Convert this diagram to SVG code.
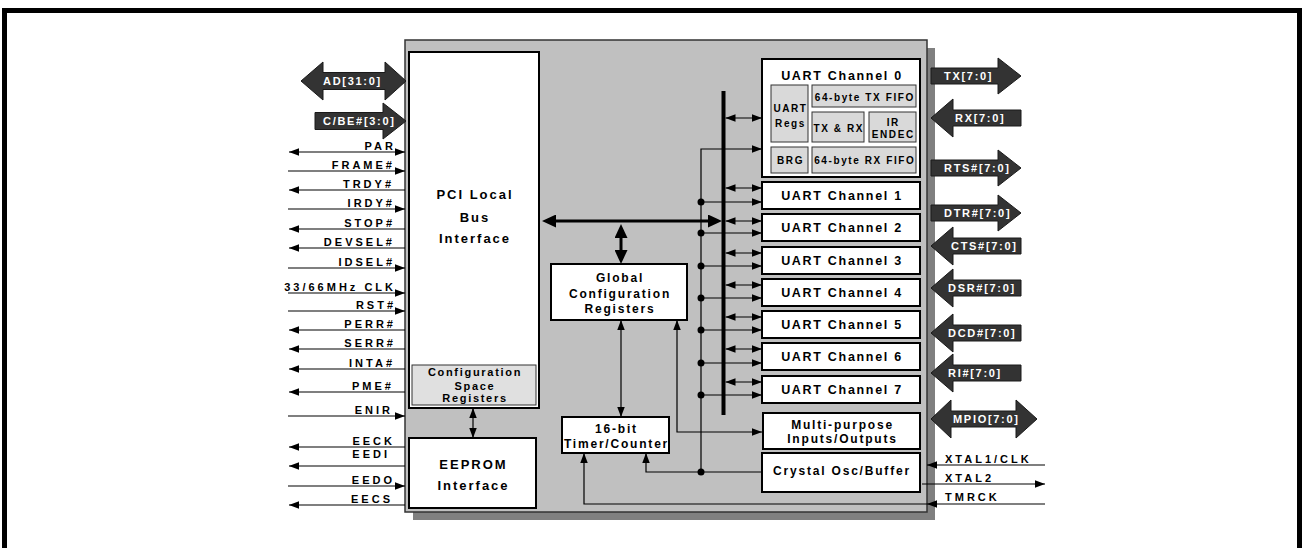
<svg xmlns="http://www.w3.org/2000/svg" width="1304" height="548" viewBox="0 0 1304 548">
<defs>
<marker id="a" viewBox="0 0 10 7.5" refX="10" refY="3.75" markerWidth="10" markerHeight="7.5" markerUnits="userSpaceOnUse" orient="auto-start-reverse"><path d="M0,0 L10,3.75 L0,7.5 Z" fill="#000"/></marker>
<marker id="b" viewBox="0 0 14 13" refX="6" refY="6.5" markerWidth="14" markerHeight="13" markerUnits="userSpaceOnUse" orient="auto-start-reverse"><path d="M0,0 L14,6.5 L0,13 Z" fill="#000"/></marker>
<style>
text{font-family:"Liberation Sans",Arial,sans-serif;font-weight:bold;fill:#000}
.sig{font-size:11px;letter-spacing:3px}
.big{font-size:11px;letter-spacing:1.7px;fill:#fff}
.t13{font-size:13px;letter-spacing:2px;text-anchor:middle}
.t12{font-size:12px;letter-spacing:1.8px;text-anchor:middle}
.t125{font-size:12.5px;letter-spacing:1.7px;text-anchor:middle}
.t11{font-size:11px;letter-spacing:1.7px;text-anchor:middle}
.t10{font-size:10px;letter-spacing:1.6px;text-anchor:middle}
.box{fill:#fff;stroke:#000;stroke-width:2}
.sub{fill:#d9d9d9;stroke:#333;stroke-width:1}
.ln{stroke:#000;stroke-width:1.2;fill:none}
.arr{fill:#333;stroke:#1a1a1a;stroke-width:1}
.dot{fill:#000}
</style>
</defs>
<rect x="4.5" y="10.5" width="1295" height="580" fill="none" stroke="#000" stroke-width="5"/>

<g id="chip">
<rect x="413" y="48" width="522" height="472" fill="#808080"/>
<rect x="405" y="40" width="522" height="472" fill="#c0c0c0" stroke="#333" stroke-width="1.5"/>
</g>

<g id="pci">
<rect class="box" x="409" y="52" width="130" height="356"/>
<text class="t13" x="475" y="198.5">PCI Local</text>
<text class="t13" x="475" y="221.5">Bus</text>
<text class="t13" x="475" y="242.5">Interface</text>
</g>
<g id="cfgspace">
<rect x="412" y="365" width="124" height="40" fill="#e0e0e0" stroke="#333" stroke-width="1"/>
<text class="t11" x="475" y="376">Configuration</text>
<text class="t11" x="475" y="389.5">Space</text>
<text class="t11" x="475" y="401.5">Registers</text>
</g>
<g id="eeprom">
<rect class="box" x="409" y="438" width="127" height="70"/>
<text class="t13" x="473.5" y="468.5">EEPROM</text>
<text class="t13" x="473.5" y="489.5">Interface</text>
</g>
<g id="gcr">
<rect class="box" x="551" y="264" width="136" height="56"/>
<text class="t12" x="620" y="281.5">Global</text>
<text class="t12" x="620" y="297.5">Configuration</text>
<text class="t12" x="620" y="312.5">Registers</text>
</g>
<g id="timer">
<rect class="box" x="562" y="417" width="107" height="36"/>
<text class="t12" x="616.5" y="432.5">16-bit</text>
<text class="t12" x="616.5" y="447.5">Timer/Counter</text>
</g>

<g id="uart0">
<rect class="box" x="762" y="59" width="158" height="118"/>
<text class="t125" x="842" y="79.5">UART Channel 0</text>
<rect class="sub" x="771" y="85" width="37" height="57"/>
<text class="t10" x="790.5" y="111.5">UART</text>
<text class="t10" x="790.5" y="126.5">Regs</text>
<rect class="sub" x="812" y="85" width="104" height="22"/>
<text class="t10" x="864.8" y="100.5">64-byte TX FIFO</text>
<rect class="sub" x="812" y="112" width="52" height="30"/>
<text class="t10" x="838.8" y="131.5">TX &amp; RX</text>
<rect class="sub" x="869" y="112" width="47" height="30"/>
<text class="t10" x="893.3" y="125.5">IR</text>
<text class="t10" x="893.3" y="137.5">ENDEC</text>
<rect class="sub" x="771" y="147" width="37" height="26"/>
<text class="t10" x="790.5" y="163.5">BRG</text>
<rect class="sub" x="812" y="147" width="104" height="26"/>
<text class="t10" x="864.8" y="163.5">64-byte RX FIFO</text>
</g>
<g id="uart1"><rect class="box" x="762" y="182" width="158" height="27"/><text class="t125" x="842" y="200">UART Channel 1</text></g>
<g id="uart2"><rect class="box" x="762" y="214" width="158" height="27"/><text class="t125" x="842" y="232">UART Channel 2</text></g>
<g id="uart3"><rect class="box" x="762" y="247" width="158" height="27"/><text class="t125" x="842" y="265">UART Channel 3</text></g>
<g id="uart4"><rect class="box" x="762" y="279" width="158" height="27"/><text class="t125" x="842" y="297">UART Channel 4</text></g>
<g id="uart5"><rect class="box" x="762" y="311" width="158" height="27"/><text class="t125" x="842" y="329">UART Channel 5</text></g>
<g id="uart6"><rect class="box" x="762" y="343" width="158" height="27"/><text class="t125" x="842" y="361">UART Channel 6</text></g>
<g id="uart7"><rect class="box" x="762" y="376" width="158" height="27"/><text class="t125" x="842" y="394">UART Channel 7</text></g>
<g id="mpio">
<rect class="box" x="763" y="413" width="157" height="36"/>
<text class="t12" x="842.5" y="428.5">Multi-purpose</text>
<text class="t12" x="842.5" y="442.5">Inputs/Outputs</text>
</g>
<g id="xtal">
<rect class="box" x="762" y="453" width="158" height="39"/>
<text class="t12" x="842" y="474.5">Crystal Osc/Buffer</text>
</g>

<g id="connectors">
<!-- internal bus -->
<rect x="721.5" y="91" width="4" height="324" fill="#000"/>
<line x1="550" y1="221" x2="714" y2="221" stroke="#000" stroke-width="3" marker-start="url(#b)" marker-end="url(#b)"/>
<line x1="621" y1="232" x2="621" y2="256" stroke="#000" stroke-width="3" marker-start="url(#b)" marker-end="url(#b)"/>
<line class="ln" x1="621" y1="320" x2="621" y2="417" marker-start="url(#a)" marker-end="url(#a)"/>
<line class="ln" x1="473" y1="408" x2="473" y2="438" marker-start="url(#a)" marker-end="url(#a)"/>
<path class="ln" d="M677,320 V432 H762" marker-start="url(#a)" marker-end="url(#a)"/>
<!-- bus to channels -->
<line class="ln" x1="725.5" y1="118" x2="762" y2="118" marker-start="url(#a)" marker-end="url(#a)"/>
<line class="ln" x1="725.5" y1="188" x2="762" y2="188" marker-start="url(#a)" marker-end="url(#a)"/>
<line class="ln" x1="725.5" y1="221" x2="762" y2="221" marker-start="url(#a)" marker-end="url(#a)"/>
<line class="ln" x1="725.5" y1="253" x2="762" y2="253" marker-start="url(#a)" marker-end="url(#a)"/>
<line class="ln" x1="725.5" y1="285" x2="762" y2="285" marker-start="url(#a)" marker-end="url(#a)"/>
<line class="ln" x1="725.5" y1="317" x2="762" y2="317" marker-start="url(#a)" marker-end="url(#a)"/>
<line class="ln" x1="725.5" y1="349" x2="762" y2="349" marker-start="url(#a)" marker-end="url(#a)"/>
<line class="ln" x1="725.5" y1="382" x2="762" y2="382" marker-start="url(#a)" marker-end="url(#a)"/>
<!-- clock distribution -->
<path class="ln" d="M701,472 V149 H762" marker-end="url(#a)"/>
<line class="ln" x1="701" y1="202" x2="762" y2="202" marker-end="url(#a)"/>
<line class="ln" x1="701" y1="233" x2="762" y2="233" marker-end="url(#a)"/>
<line class="ln" x1="701" y1="266" x2="762" y2="266" marker-end="url(#a)"/>
<line class="ln" x1="701" y1="298" x2="762" y2="298" marker-end="url(#a)"/>
<line class="ln" x1="701" y1="330" x2="762" y2="330" marker-end="url(#a)"/>
<line class="ln" x1="701" y1="363" x2="762" y2="363" marker-end="url(#a)"/>
<line class="ln" x1="701" y1="395" x2="762" y2="395" marker-end="url(#a)"/>
<path class="ln" d="M762,472 H646 V453" marker-end="url(#a)"/>
<path class="ln" d="M927,504 H584 V453" marker-end="url(#a)"/>
<circle class="dot" cx="701" cy="202" r="3.5"/>
<circle class="dot" cx="701" cy="233" r="3.5"/>
<circle class="dot" cx="701" cy="266" r="3.5"/>
<circle class="dot" cx="701" cy="298" r="3.5"/>
<circle class="dot" cx="701" cy="330" r="3.5"/>
<circle class="dot" cx="701" cy="363" r="3.5"/>
<circle class="dot" cx="701" cy="395" r="3.5"/>
<circle class="dot" cx="701" cy="472" r="3.5"/>

<!-- left PCI signals -->
<path class="arr" d="M301,81 L323,62 L323,72.5 L385,72.5 L385,62 L406,81 L385,100 L385,89.5 L323,89.5 L323,100 Z"/>
<path class="arr" d="M315,112.5 L383,112.5 L383,103 L406,121 L383,139 L383,129.5 L315,129.5 Z"/>
<line class="ln" x1="289" y1="152" x2="405" y2="152" marker-start="url(#a)" marker-end="url(#a)"/>
<line class="ln" x1="288" y1="171" x2="405" y2="171" marker-end="url(#a)"/>
<line class="ln" x1="289" y1="190" x2="405" y2="190" marker-start="url(#a)"/>
<line class="ln" x1="288" y1="209" x2="405" y2="209" marker-end="url(#a)"/>
<line class="ln" x1="289" y1="229" x2="405" y2="229" marker-start="url(#a)"/>
<line class="ln" x1="289" y1="248" x2="405" y2="248" marker-start="url(#a)"/>
<line class="ln" x1="288" y1="268" x2="405" y2="268" marker-end="url(#a)"/>
<line class="ln" x1="288" y1="293" x2="405" y2="293" marker-end="url(#a)"/>
<line class="ln" x1="288" y1="311" x2="405" y2="311" marker-end="url(#a)"/>
<line class="ln" x1="289" y1="330" x2="405" y2="330" marker-start="url(#a)"/>
<line class="ln" x1="289" y1="349" x2="405" y2="349" marker-start="url(#a)"/>
<line class="ln" x1="289" y1="369" x2="405" y2="369" marker-start="url(#a)"/>
<line class="ln" x1="289" y1="392" x2="405" y2="392" marker-start="url(#a)"/>
<line class="ln" x1="288" y1="416" x2="405" y2="416" marker-end="url(#a)"/>
<line class="ln" x1="289" y1="447" x2="405" y2="447" marker-start="url(#a)"/>
<line class="ln" x1="289" y1="466" x2="405" y2="466" marker-start="url(#a)"/>
<line class="ln" x1="288" y1="486" x2="405" y2="486" marker-end="url(#a)"/>
<line class="ln" x1="289" y1="505" x2="405" y2="505" marker-start="url(#a)"/>

<!-- right serial signals -->
<path class="arr" d="M931,68 L998,68 L998,58 L1021,76 L998,94 L998,84 L931,84 Z"/>
<path class="arr" d="M931,118 L953,99 L953,110 L1021,110 L1021,126 L953,126 L953,137 Z"/>
<path class="arr" d="M931,160 L998,160 L998,150 L1021,168 L998,186 L998,176 L931,176 Z"/>
<path class="arr" d="M931,205 L998,205 L998,195 L1021,213 L998,231 L998,221 L931,221 Z"/>
<path class="arr" d="M931,246 L953,227 L953,238 L1021,238 L1021,254 L953,254 L953,265 Z"/>
<path class="arr" d="M931,288 L953,269 L953,280 L1021,280 L1021,296 L953,296 L953,307 Z"/>
<path class="arr" d="M931,333 L953,314 L953,325 L1021,325 L1021,341 L953,341 L953,352 Z"/>
<path class="arr" d="M931,373 L953,354 L953,365 L1021,365 L1021,381 L953,381 L953,392 Z"/>
<path class="arr" d="M931,419 L951,400 L951,411 L1016,411 L1016,400 L1037,419 L1016,438 L1016,427 L951,427 L951,438 Z"/>
<line class="ln" x1="1045" y1="465" x2="927" y2="465" marker-end="url(#a)"/>
<line class="ln" x1="922" y1="484" x2="1045" y2="484" marker-end="url(#a)"/>
<line class="ln" x1="1045" y1="504" x2="927" y2="504" marker-end="url(#a)"/>
</g>

<g id="labels">
<text class="big" x="323" y="85">AD[31:0]</text>
<text class="big" x="323" y="125">C/BE#[3:0]</text>
<g class="sig" text-anchor="end">
<text x="396" y="150">PAR</text>
<text x="395" y="169">FRAME#</text>
<text x="394" y="188">TRDY#</text>
<text x="395" y="207">IRDY#</text>
<text x="395" y="227">STOP#</text>
<text x="395" y="246">DEVSEL#</text>
<text x="395" y="266">IDSEL#</text>
<text x="396" y="291">33/66MHz CLK</text>
<text x="396" y="309">RST#</text>
<text x="396" y="328">PERR#</text>
<text x="396" y="347">SERR#</text>
<text x="395" y="367">INTA#</text>
<text x="394" y="390">PME#</text>
<text x="393" y="414">ENIR</text>
<text x="395" y="445">EECK</text>
<text x="390" y="458">EEDI</text>
<text x="395" y="484">EEDO</text>
<text x="393" y="503">EECS</text>
</g>
<text class="big" x="944" y="80">TX[7:0]</text>
<text class="big" x="955" y="122">RX[7:0]</text>
<text class="big" x="944" y="172">RTS#[7:0]</text>
<text class="big" x="944" y="217">DTR#[7:0]</text>
<text class="big" x="951" y="250">CTS#[7:0]</text>
<text class="big" x="948" y="292">DSR#[7:0]</text>
<text class="big" x="948" y="337">DCD#[7:0]</text>
<text class="big" x="948" y="377">RI#[7:0]</text>
<text class="big" x="953" y="423">MPIO[7:0]</text>
<text class="sig" x="945" y="463">XTAL1/CLK</text>
<text class="sig" x="945" y="482">XTAL2</text>
<text class="sig" x="945" y="501">TMRCK</text>
</g>
</svg>
